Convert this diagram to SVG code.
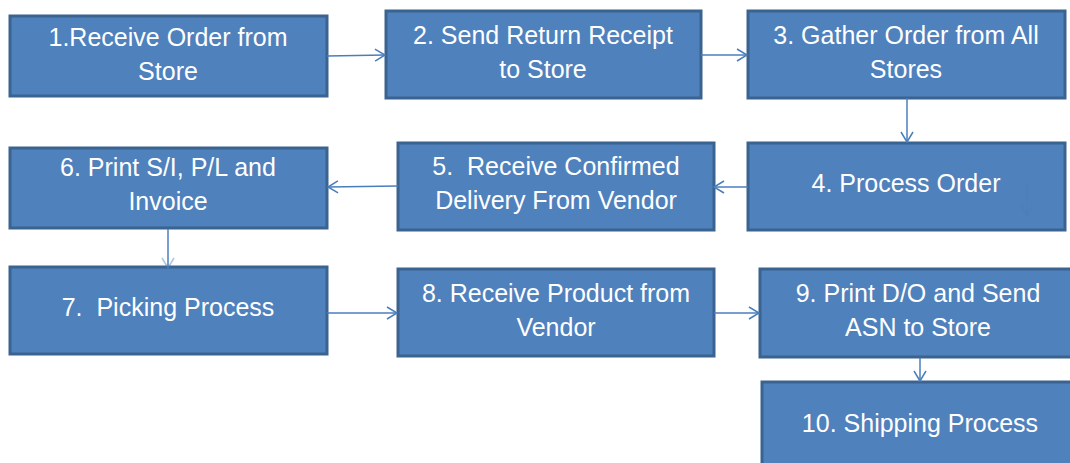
<svg xmlns="http://www.w3.org/2000/svg" width="1070" height="463" viewBox="0 0 1070 463">
<style>
.box{fill:#4F81BD;stroke:#3A6390;stroke-width:3}
.t{fill:#FFFFFF;font-family:"Liberation Sans",Arial,sans-serif;font-size:25px;text-anchor:middle}
.c{stroke:#4A7EBB;stroke-width:1.5;fill:none}
</style>
<defs>
<marker id="ah" markerWidth="14" markerHeight="14" refX="11" refY="7" orient="auto" markerUnits="userSpaceOnUse">
<path d="M1,1 L11,7 L1,13" fill="none" stroke="#4A7EBB" stroke-width="1.5"/>
</marker>
<marker id="ahf" markerWidth="14" markerHeight="14" refX="11" refY="7" orient="auto" markerUnits="userSpaceOnUse">
<path d="M1,1 L11,7 L1,13" fill="none" stroke="#4A7EBB" stroke-width="1.5" opacity="0.45"/>
</marker>
</defs>
<rect width="1070" height="463" fill="#FFFFFF"/>
<g id="n1"><rect class="box" x="10" y="16" width="317" height="80"/><text class="t" x="168" y="46">1.Receive Order from</text><text class="t" x="168" y="80">Store</text></g>
<g id="n2"><rect class="box" x="386" y="11" width="315" height="87"/><text class="t" x="543" y="44">2. Send Return Receipt</text><text class="t" x="543" y="78">to Store</text></g>
<g id="n3"><rect class="box" x="748" y="11" width="317" height="87"/><text class="t" x="906" y="44">3. Gather Order from All</text><text class="t" x="906" y="78">Stores</text></g>
<g id="n4"><rect class="box" x="748" y="143" width="317" height="87"/><text class="t" x="906" y="192">4. Process Order</text></g>
<g id="n5"><rect class="box" x="398" y="143" width="316" height="87"/><text class="t" x="556" y="175" xml:space="preserve">5.  Receive Confirmed</text><text class="t" x="556" y="209">Delivery From Vendor</text></g>
<g id="n6"><rect class="box" x="10" y="148" width="317" height="80"/><text class="t" x="168" y="176">6. Print S/I, P/L and</text><text class="t" x="168" y="210">Invoice</text></g>
<g id="n7"><rect class="box" x="10" y="267" width="317" height="87"/><text class="t" x="168" y="316" xml:space="preserve">7.  Picking Process</text></g>
<g id="n8"><rect class="box" x="398" y="269" width="316" height="87"/><text class="t" x="556" y="302">8. Receive Product from</text><text class="t" x="556" y="336">Vendor</text></g>
<g id="n9"><rect class="box" x="760" y="269" width="313" height="88"/><text class="t" x="918" y="302">9. Print D/O and Send</text><text class="t" x="918" y="336">ASN to Store</text></g>
<g id="n10"><rect class="box" x="762" y="382" width="312" height="90"/><text class="t" x="920" y="432">10. Shipping Process</text></g>
<g id="connectors">
<line class="c" x1="327" y1="56" x2="385" y2="55" marker-end="url(#ah)"/>
<line class="c" x1="701" y1="55" x2="747" y2="55" marker-end="url(#ah)"/>
<line class="c" x1="907" y1="98" x2="907" y2="142" marker-end="url(#ah)"/>
<line class="c" x1="748" y1="187" x2="714" y2="187" marker-end="url(#ah)"/>
<line class="c" x1="398" y1="186" x2="328" y2="187" marker-end="url(#ah)"/>
<line class="c" x1="168" y1="229" x2="168" y2="268" marker-end="url(#ahf)"/>
<line class="c" x1="327" y1="313" x2="397" y2="313" marker-end="url(#ah)"/>
<line class="c" x1="714" y1="313" x2="759" y2="313" marker-end="url(#ah)"/>
<line class="c" x1="920" y1="358" x2="920" y2="381" marker-end="url(#ah)"/>
<line class="c" x1="1027" y1="185" x2="1027" y2="215" stroke-opacity="0.45" marker-end="url(#ahf)"/>
</g>
</svg>
